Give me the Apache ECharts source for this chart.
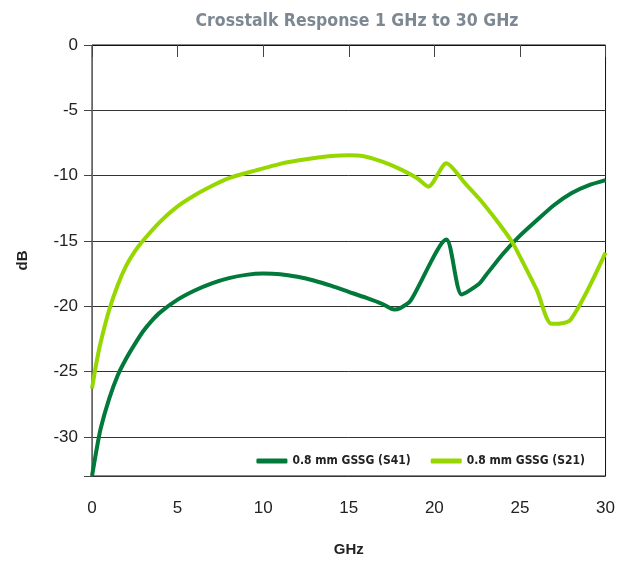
<!DOCTYPE html>
<html>
<head>
<meta charset="utf-8">
<script src="https://cdn.jsdelivr.net/npm/echarts@6/dist/echarts.min.js"></script>
<style>
  html, body { margin: 0; padding: 0; background: #fff; }
  #chart { width: 618px; height: 562px; }
</style>
</head>
<body>
<div id="chart"></div>
<script>
  // frequency (GHz) / crosstalk (dB)
  const s41Freq = [0, 0.25, 0.5, 1, 1.5, 2, 2.5, 3, 3.5, 4, 5, 6, 7, 8, 9, 10, 11, 12, 13, 14, 15, 16, 17, 17.65, 18, 18.6, 20.7, 21.6, 22.6, 23, 24, 25, 26, 27, 28, 29, 30];
  const s41Db = [-33.0, -31.1, -29.4, -27.1, -25.3, -24.0, -22.9, -21.9, -21.1, -20.45, -19.5, -18.8, -18.25, -17.85, -17.6, -17.5, -17.55, -17.75, -18.05, -18.45, -18.9, -19.35, -19.85, -20.25, -20.15, -19.6, -14.9, -19.1, -18.3, -17.65, -16.0, -14.6, -13.4, -12.25, -11.35, -10.75, -10.35];

  const s21Freq = [0, 0.25, 0.5, 1, 1.5, 2, 2.5, 3, 4, 5, 6, 7, 8, 9, 10, 11, 12, 13, 14, 15, 16, 17, 18, 19, 19.65, 20.7, 21.8, 22.6, 23.67, 24.55, 25, 26, 26.85, 27.95, 30];
  const s21Db = [-26.3, -24.4, -22.8, -20.3, -18.4, -16.9, -15.8, -14.95, -13.5, -12.35, -11.5, -10.8, -10.2, -9.8, -9.45, -9.1, -8.85, -8.65, -8.5, -8.45, -8.55, -8.95, -9.5, -10.2, -10.85, -9.05, -10.6, -11.74, -13.5, -15.1, -16.2, -18.8, -21.35, -21.05, -15.9];

  const seriesNames = ['0.8 mm GSSG (S41)', '0.8 mm GSSG (S21)'];
  const seriesColors = ['#00793a', '#97d700'];

  function pairs(xs, ys) {
    return xs.map(function (x, i) { return [x, ys[i]]; });
  }

  const myChart = echarts.init(document.getElementById('chart'));
  let option = {
    backgroundColor: '#fff',
    animation: false,
    title: {
      text: 'Crosstalk Response 1 GHz to 30 GHz',
      left: 352,
      textAlign: 'center',
      top: 7,
      textStyle: {
        color: '#7d8892',
        fontFamily: '"Liberation Sans Narrow", "DejaVu Sans Condensed", sans-serif',
        fontWeight: 'bold',
        fontSize: 17.5
      }
    },
    legend: {
      right: 28,
      top: 450,
      icon: 'roundRect',
      itemWidth: 31,
      itemHeight: 5,
      itemGap: 20,
      textStyle: {
        color: '#222',
        fontFamily: '"Liberation Sans Narrow", "DejaVu Sans Condensed", sans-serif',
        fontWeight: 'bold',
        fontSize: 12
      },
      data: seriesNames
    },
    grid: {
      left: 92,
      right: 11,
      top: 45,
      bottom: 82,
      show: true,
      borderColor: '#111',
      borderWidth: 1
    },
    xAxis: {
      type: 'value',
      min: 0,
      max: 30,
      interval: 5,
      name: 'GHz',
      nameLocation: 'middle',
      nameGap: 66,
      nameTextStyle: { color: '#222', fontWeight: 'bold', fontSize: 15, fontFamily: '"Liberation Sans", sans-serif' },
      axisLine: { lineStyle: { color: '#111' } },
      axisTick: { length: 12, lineStyle: { color: '#444' } },
      axisLabel: { margin: 24, color: '#222', fontSize: 17, fontFamily: '"Liberation Sans", sans-serif' },
      splitLine: { show: false }
    },
    yAxis: {
      type: 'value',
      min: -33,
      max: 0,
      splitNumber: 6,
      name: 'dB',
      nameLocation: 'middle',
      nameGap: 62,
      nameRotate: 90,
      nameTextStyle: { color: '#222', fontWeight: 'bold', fontSize: 15, fontFamily: '"Liberation Sans", sans-serif' },
      axisLine: { show: true, lineStyle: { color: '#666' } },
      axisTick: { show: true, length: 8, lineStyle: { color: '#444' } },
      axisLabel: {
        margin: 14,
        color: '#222',
        fontSize: 17,
        fontFamily: '"Liberation Sans", sans-serif',
        formatter: function (v) { return v % 5 === 0 ? String(v) : ''; }
      },
      splitLine: { show: true, lineStyle: { color: '#333', width: 1 } }
    },
    series: [
      {
        name: seriesNames[0],
        type: 'line',
        data: pairs(s41Freq, s41Db),
        showSymbol: false,
        smooth: 0.25,
        color: seriesColors[0],
        lineStyle: { width: 4, color: seriesColors[0] }
      },
      {
        name: seriesNames[1],
        type: 'line',
        data: pairs(s21Freq, s21Db),
        showSymbol: false,
        smooth: 0.25,
        color: seriesColors[1],
        lineStyle: { width: 4, color: seriesColors[1] }
      }
    ]
  };
  myChart.setOption(option, true);
</script>
</body>
</html>
